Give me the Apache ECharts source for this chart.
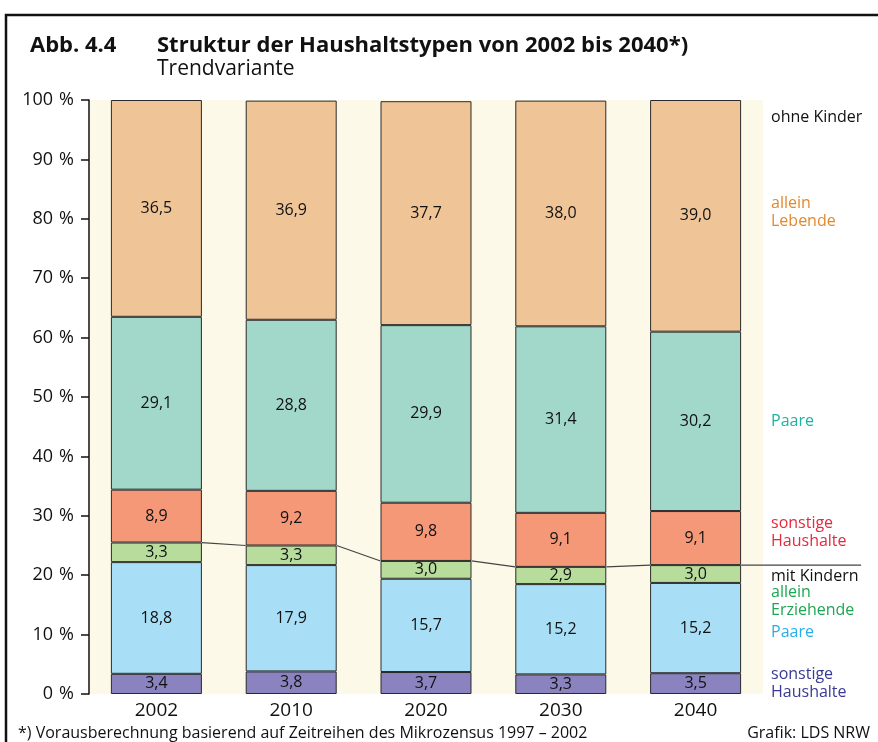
<!DOCTYPE html>
<html><head><meta charset="utf-8">
<script src="https://cdn.jsdelivr.net/npm/echarts@6/dist/echarts.min.js"></script>
<style>html,body{margin:0;padding:0;background:#fff}#c{width:878px;height:742px}</style>
</head><body><div id="c"></div>
<script>
const years = ['2002', '2010', '2020', '2030', '2040'];
// mit Kindern (bottom to top)
const sonstigeMit = [3.4, 3.8, 3.7, 3.3, 3.5];
const paareMit = [18.8, 17.9, 15.7, 15.2, 15.2];
const alleinErziehende = [3.3, 3.3, 3.0, 2.9, 3.0];
// ohne Kinder
const sonstigeOhne = [8.9, 9.2, 9.8, 9.1, 9.1];
const paareOhne = [29.1, 28.8, 29.9, 31.4, 30.2];
const alleinLebende = [36.5, 36.9, 37.7, 38.0, 39.0];
const yTicks = [0, 10, 20, 30, 40, 50, 60, 70, 80, 90, 100];

const FONT = '"Open Sans", "Noto Sans", sans-serif';
const BARW = 0.675;
const chart = echarts.init(document.getElementById('c'), null, {renderer: 'canvas'});

const fmt = p => p.value.toFixed(1).replace('.', ',');
function barSeries(name, data, color) {
  return {
    name, type: 'bar', stack: 'all', data, barWidth: (BARW * 100) + '%',
    itemStyle: {color, borderColor: '#2a2a2a', borderWidth: 1},
    label: {show: true, position: 'inside', formatter: fmt, color: '#111', fontSize: 16, fontFamily: FONT},
    z: 3
  };
}
const mitTotal = years.map((_, i) => sonstigeMit[i] + paareMit[i] + alleinErziehende[i]);
const lineData = years.map((_, i) => [i, mitTotal[i], i < years.length - 1 ? mitTotal[i + 1] : mitTotal[i]]);

const rightLabels = [
  {t: 'ohne Kinder', y: 117, c: '#111'},
  {t: 'allein\nLebende', y: 212, c: '#e3892c'},
  {t: 'Paare', y: 421, c: '#1fb2a0'},
  {t: 'sonstige\nHaushalte', y: 532, c: '#e8283c'},
  {t: 'mit Kindern', y: 576, c: '#111'},
  {t: 'allein\nErziehende', y: 601, c: '#1ea653'},
  {t: 'Paare', y: 632, c: '#27aee8'},
  {t: 'sonstige\nHaushalte', y: 683, c: '#3a3a96'}
];

chart.setOption({
  animation: false,
  backgroundColor: '#fff',
  grid: {left: 89, right: 115, top: 100, bottom: 48, show: true, backgroundColor: '#fdf9e9', borderWidth: 0},
  xAxis: {
    type: 'category', data: years,
    axisLine: {show: false}, axisTick: {show: false},
    axisLabel: {color: '#111', fontSize: 19, fontFamily: FONT, margin: 7}
  },
  yAxis: {
    type: 'value', min: yTicks[0], max: yTicks[yTicks.length - 1], interval: 10,
    axisLine: {show: true, lineStyle: {color: '#111', width: 1.5}},
    axisTick: {show: true, length: 8, lineStyle: {color: '#111', width: 1.5}},
    splitLine: {show: false},
    axisLabel: {formatter: '{value}\u2009\u2009%', color: '#111', fontSize: 18, fontFamily: FONT, margin: 15}
  },
  series: [
    barSeries('sonstige Haushalte (mit Kindern)', sonstigeMit, '#8a83bf'),
    barSeries('Paare (mit Kindern)', paareMit, '#a9dff6'),
    barSeries('allein Erziehende', alleinErziehende, '#b7dc9c'),
    barSeries('sonstige Haushalte (ohne Kinder)', sonstigeOhne, '#f59878'),
    barSeries('Paare (ohne Kinder)', paareOhne, '#a1d8c9'),
    barSeries('allein Lebende', alleinLebende, '#efc597'),
    {
      type: 'custom', data: lineData, clip: false, z: 5, silent: true,
      encode: {x: 0, y: 1},
      renderItem: (params, api) => {
        const i = api.value(0);
        const p = api.coord([i, api.value(1)]);
        const half = api.size([1, 0])[0] * BARW / 2;
        let x2, y2;
        if (i < years.length - 1) {
          const q = api.coord([i + 1, api.value(2)]);
          x2 = q[0] - half; y2 = q[1];
        } else {
          x2 = p[0] + half + 120; y2 = p[1];
        }
        return {type: 'line', shape: {x1: p[0] + half, y1: p[1], x2, y2},
          style: {stroke: '#444', lineWidth: 1.2}};
      }
    }
  ],
  graphic: [
    {type: 'polyline', shape: {points: [[6, 760], [6, 15], [890, 15]]}, style: {stroke: '#111', lineWidth: 2.5, fill: null}},
    {type: 'text', x: 30, y: 46, style: {text: 'Abb. 4.4', font: 'bold 22px ' + FONT, fill: '#111', verticalAlign: 'middle'}},
    {type: 'text', x: 157, y: 46, style: {text: 'Struktur der Haushaltstypen von 2002 bis 2040*)', font: 'bold 22px ' + FONT, fill: '#111', verticalAlign: 'middle'}},
    {type: 'text', x: 157, y: 69, style: {text: 'Trendvariante', font: '21px ' + FONT, fill: '#111', verticalAlign: 'middle'}},
    {type: 'text', x: 18, y: 733, style: {text: '*) Vorausberechnung basierend auf Zeitreihen des Mikrozensus 1997 – 2002', font: '16px ' + FONT, fill: '#111', verticalAlign: 'middle'}},
    {type: 'text', x: 870, y: 733, style: {text: 'Grafik: LDS NRW', font: '16px ' + FONT, fill: '#111', verticalAlign: 'middle', align: 'right'}},
    ...rightLabels.map(l => ({type: 'text', x: 771, y: l.y, style: {text: l.t, font: '16px ' + FONT, fill: l.c, verticalAlign: 'middle', lineHeight: 18}}))
  ]
});
</script></body></html>
